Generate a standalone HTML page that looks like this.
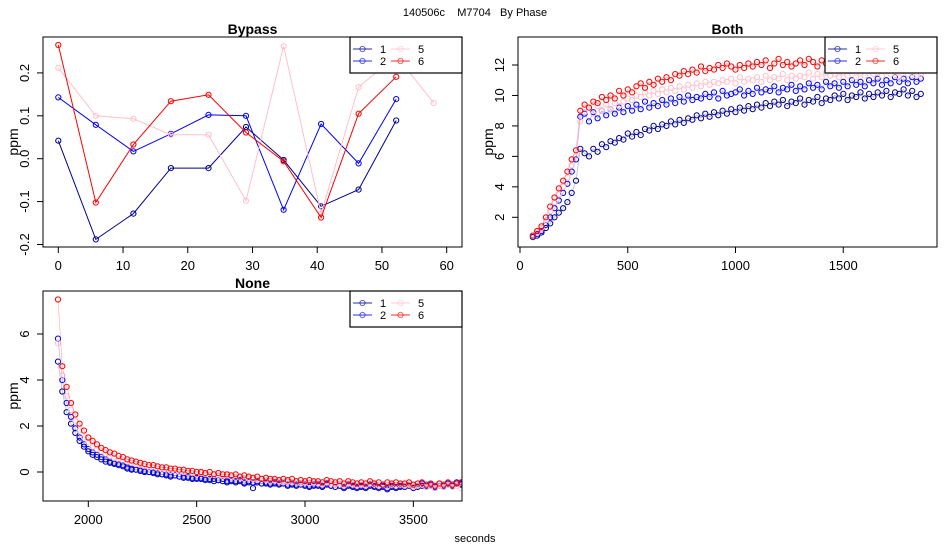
<!DOCTYPE html>
<html><head><meta charset="utf-8">
<style>
body{margin:0;background:#fff;}
svg{display:block;font-family:"Liberation Sans",sans-serif;}
</style></head>
<body>
<svg id="chart" width="950" height="550" viewBox="0 0 950 550">
<rect width="950" height="550" fill="#fff"/>
<text x="475" y="16" font-size="11" text-anchor="middle" xml:space="preserve">140506c    M7704   By Phase</text>
<text x="475" y="542" font-size="11" text-anchor="middle">seconds</text>
</svg>
<script>
const seriesNames = ["1","2","5","6"];
const seriesColors = ["#00008B","#0000FF","#FFC0CB","#FF0000"];

const bypassX = [0,5.8,11.6,17.4,23.2,29,34.8,40.6,46.4,52.2,58];
const bypass1 = [0.042,-0.188,-0.128,-0.022,-0.022,0.074,-0.003,-0.111,-0.072,0.089];
const bypass2 = [0.143,0.079,0.017,0.058,0.102,0.1,-0.119,0.081,-0.011,0.139];
const bypass5 = [0.212,0.1,0.093,0.056,0.056,-0.098,0.262,-0.128,0.167,0.24,0.13];
const bypass6 = [0.265,-0.102,0.033,0.134,0.149,0.061,-0.006,-0.137,0.105,0.191];

const bothStart = 60, bothStep = 20;
const both1 = [0.7,0.8,1.0,1.3,1.6,2.0,2.3,2.6,3.0,3.6,4.4,
6.5,6.2,6.0,6.5,6.3,6.8,6.6,7.0,6.9,7.2,
7.1,7.5,7.3,7.6,7.4,7.8,7.7,8.0,7.8,8.1,
8.0,8.3,8.1,8.4,8.2,8.5,8.4,8.7,8.5,8.8,
8.6,8.9,8.7,9.0,8.8,9.1,8.9,9.2,9.0,9.3,
9.1,9.4,9.2,9.5,9.3,9.6,9.4,9.7,9.3,9.6,
9.5,9.8,9.4,9.7,9.6,9.9,9.5,9.8,9.7,10.0,
9.8,10.1,9.7,10.0,9.9,10.2,9.8,10.1,9.9,10.2,
10.0,10.3,9.9,10.2,10.1,10.4,10.0,10.3,9.9,10.1];
const both2 = [0.8,0.9,1.1,1.5,2.0,2.6,3.1,3.6,4.2,5.0,5.8,
8.6,8.8,8.3,8.9,8.5,9.0,8.7,9.1,8.8,9.2,
8.9,9.3,9.0,9.4,9.1,9.6,9.2,9.5,9.3,9.7,
9.4,9.8,9.5,9.9,9.6,10.0,9.7,9.9,9.8,10.1,
9.9,10.2,9.8,10.3,10.0,10.1,10.2,10.4,10.0,10.3,
10.1,10.5,10.2,10.4,10.3,10.6,10.2,10.5,10.4,10.7,
10.3,10.6,10.4,10.8,10.5,10.7,10.4,10.9,10.6,10.8,
10.5,10.9,10.6,11.0,10.7,10.9,10.6,11.0,10.8,11.1,
10.7,11.0,10.8,11.2,10.9,11.1,10.8,11.2,10.9,11.1];
const both5 = [0.8,1.0,1.3,1.8,2.4,3.0,3.5,4.0,4.6,5.4,6.0,
8.3,8.9,9.2,8.8,9.3,9.0,9.4,9.1,9.5,9.3,
9.6,9.8,9.7,10.0,9.9,10.2,10.0,10.3,10.1,10.4,
10.2,10.5,10.3,10.6,10.4,10.7,10.5,10.8,10.6,10.9,
10.7,10.9,10.8,11.0,10.9,11.1,10.8,11.2,10.9,11.1,
11.0,11.2,10.9,11.3,11.0,11.2,11.1,11.4,11.0,11.3,
11.1,11.3,11.2,11.5,11.1,11.4,11.2,11.5,11.3,11.4,
11.2,11.5,11.3,11.6,11.2,11.5,11.3,11.6,11.4,11.5,
11.3,11.6,11.4,11.5,11.2,11.6,11.4,11.5,11.3,11.4];
const both6 = [0.8,1.1,1.4,2.0,2.7,3.3,3.9,4.4,5.0,5.8,6.4,
9.0,9.4,9.2,9.6,9.5,9.9,9.7,10.0,9.8,10.3,
10.0,10.4,10.2,10.6,10.8,10.5,10.9,10.7,11.1,10.9,
11.2,11.0,11.4,11.3,11.6,11.4,11.7,11.5,11.9,11.6,
11.8,11.7,12.0,11.8,12.1,11.9,11.7,12.0,11.8,12.1,
11.9,12.2,12.0,12.3,11.8,12.1,12.4,12.0,12.2,11.9,
12.1,12.3,12.0,12.4,12.2,11.9,12.3,12.1,12.4,12.2,
12.3,12.1,12.5,12.2,12.4,12.0,12.3,12.2,12.5,12.1,
12.3,12.2,12.4,12.0,12.3,12.1,12.4,12.2,12.3,12.1];

const noneStart = 1860, noneStep = 20;
const none1 = [4.8,3.5,2.6,2.1,1.7,1.35,1.1,0.9,0.75,0.65,
0.55,0.45,0.4,0.35,0.3,0.25,0.15,0.1,0.1,0.05,
0.0,0.0,-0.05,-0.1,-0.1,-0.15,-0.2,-0.15,-0.2,-0.25,
-0.25,-0.3,-0.25,-0.3,-0.35,-0.3,-0.4,-0.35,-0.4,-0.45,
-0.4,-0.45,-0.4,-0.5,-0.45,-0.7,-0.45,-0.5,-0.5,-0.55,
-0.5,-0.55,-0.5,-0.6,-0.55,-0.6,-0.55,-0.6,-0.65,-0.6,
-0.6,-0.65,-0.55,-0.6,-0.65,-0.6,-0.7,-0.6,-0.65,-0.7,
-0.65,-0.7,-0.6,-0.65,-0.7,-0.65,-0.75,-0.65,-0.7,-0.65,
-0.65,-0.6,-0.7,-0.65,-0.6,-0.65,-0.6,-0.7,-0.6,-0.65,
-0.55,-0.6,-0.5,-0.55,-0.5];
const none2 = [5.8,4.0,3.0,2.4,1.9,1.5,1.2,1.0,0.85,0.75,
0.65,0.55,0.45,0.4,0.35,0.3,0.2,0.15,0.1,0.1,
0.05,0.0,0.0,-0.05,-0.1,-0.1,-0.15,-0.15,-0.2,-0.2,
-0.2,-0.25,-0.3,-0.25,-0.3,-0.35,-0.3,-0.35,-0.3,-0.4,
-0.35,-0.4,-0.35,-0.45,-0.4,-0.45,-0.4,-0.5,-0.45,-0.5,
-0.45,-0.5,-0.45,-0.55,-0.5,-0.55,-0.5,-0.55,-0.6,-0.55,
-0.55,-0.6,-0.5,-0.6,-0.55,-0.6,-0.65,-0.55,-0.6,-0.65,
-0.6,-0.65,-0.55,-0.6,-0.65,-0.6,-0.7,-0.6,-0.65,-0.6,
-0.6,-0.55,-0.65,-0.6,-0.5,-0.6,-0.55,-0.65,-0.5,-0.6,
-0.5,-0.55,-0.45,-0.5,-0.45];
const none5 = [5.6,4.2,3.3,2.7,2.2,1.8,1.5,1.3,1.1,1.0,
0.9,0.8,0.7,0.6,0.55,0.5,0.45,0.4,0.35,0.3,
0.25,0.2,0.2,0.15,0.1,0.1,0.05,0.05,0.0,0.0,
-0.05,-0.05,-0.1,-0.05,-0.1,-0.15,-0.1,-0.15,-0.2,-0.15,
-0.2,-0.25,-0.2,-0.3,-0.25,-0.3,-0.35,-0.3,-0.35,-0.4,
-0.35,-0.4,-0.45,-0.4,-0.45,-0.4,-0.5,-0.45,-0.5,-0.45,
-0.5,-0.55,-0.45,-0.5,-0.55,-0.5,-0.6,-0.5,-0.55,-0.6,
-0.55,-0.6,-0.5,-0.55,-0.6,-0.55,-0.65,-0.55,-0.6,-0.55,
-0.6,-0.55,-0.65,-0.6,-0.55,-0.65,-0.6,-0.7,-0.6,-0.65,
-0.55,-0.65,-0.6,-0.7,-0.6];
const none6 = [7.5,4.6,3.7,3.0,2.5,2.1,1.8,1.5,1.35,1.2,
1.05,0.95,0.85,0.8,0.7,0.65,0.55,0.5,0.45,0.4,
0.35,0.3,0.3,0.25,0.2,0.2,0.15,0.15,0.1,0.1,
0.05,0.05,0.0,0.0,-0.05,0.0,-0.1,-0.05,-0.1,-0.1,
-0.15,-0.1,-0.2,-0.15,-0.2,-0.25,-0.2,-0.3,-0.25,-0.3,
-0.3,-0.35,-0.3,-0.35,-0.3,-0.4,-0.35,-0.4,-0.35,-0.4,
-0.4,-0.45,-0.35,-0.4,-0.45,-0.4,-0.5,-0.4,-0.45,-0.5,
-0.45,-0.5,-0.4,-0.5,-0.45,-0.55,-0.45,-0.5,-0.45,-0.5,
-0.5,-0.45,-0.55,-0.5,-0.45,-0.55,-0.5,-0.6,-0.5,-0.55,
-0.45,-0.55,-0.5,-0.45,-0.5];

const bypassXTicks = [0,10,20,30,40,50,60];
const bypassYTicks = [-0.2,-0.1,0.0,0.1,0.2];
const bypassYLabels = ["-0.2","-0.1","0.0","0.1","0.2"];
const bothXTicks = [0,500,1000,1500];
const bothYTicks = [2,4,6,8,10,12];
const noneXTicks = [2000,2500,3000,3500];
const noneYTicks = [0,2,4,6];

const NS = "http://www.w3.org/2000/svg";
const svg = document.getElementById("chart");
function mk(tag, attrs, parent){
  const e = document.createElementNS(NS, tag);
  for (const k in attrs) e.setAttribute(k, attrs[k]);
  (parent||svg).appendChild(e);
  return e;
}

function panel(cfg){
  const g = mk("g", {});
  
  
  const sx = v => cfg.x0px + (v - cfg.x0v) * cfg.kx;
  const sy = v => cfg.y0px - (v - cfg.y0v) * cfg.ky;
  const cid = "clip-" + cfg.name;
  const cp = mk("clipPath", {id: cid}, g);
  mk("rect", {x: cfg.L, y: cfg.T, width: cfg.R - cfg.L, height: cfg.B - cfg.T}, cp);
  const dg = mk("g", {"clip-path": "url(#" + cid + ")"}, g);
  cfg.series.forEach((s, i) => {
    const pts = s.y.map((v, j) => [sx(s.x(j)), sy(v)]);
    const line = mk("polyline", {points: pts.map(p => p[0].toFixed(1)+","+p[1].toFixed(1)).join(" "), fill: "none", stroke: seriesColors[i], "stroke-width": cfg.lw, "stroke-opacity": cfg.lop}, dg);
    
    
    pts.forEach(p => {
      const c = mk("circle", {cx: p[0].toFixed(1), cy: p[1].toFixed(1), r: 2.6, fill: "none", stroke: seriesColors[i], "stroke-width": 1}, dg);
      
      
    });
  });
  const box = mk("rect", {x: cfg.L, y: cfg.T, width: cfg.R - cfg.L, height: cfg.B - cfg.T, fill: "none", stroke: "#000", "stroke-width": 1}, g);
  
  
  const xa = mk("g", {}, g);
  
  
  const xt = cfg.xTicks;
  mk("line", {x1: sx(xt[0]), x2: sx(xt[xt.length-1]), y1: cfg.B, y2: cfg.B, stroke: "#000"}, xa);
  xt.forEach(v => {
    mk("line", {x1: sx(v), x2: sx(v), y1: cfg.B, y2: cfg.B + 6, stroke: "#000"}, xa);
    const t = mk("text", {x: sx(v), y: cfg.B + 23, "font-size": 13, "text-anchor": "middle"}, xa);
    t.textContent = String(v);
  });
  const ya = mk("g", {}, g);
  
  
  const yt = cfg.yTicks;
  mk("line", {x1: cfg.L, x2: cfg.L, y1: sy(yt[0]), y2: sy(yt[yt.length-1]), stroke: "#000"}, ya);
  yt.forEach((v, i) => {
    mk("line", {x1: cfg.L - 6, x2: cfg.L, y1: sy(v), y2: sy(v), stroke: "#000"}, ya);
    const lx = cfg.L - 14;
    const t = mk("text", {x: lx, y: sy(v), "font-size": 13, "text-anchor": "middle", transform: "rotate(-90 " + lx + " " + sy(v) + ")"}, ya);
    t.textContent = cfg.yLabels ? cfg.yLabels[i] : String(v);
  });
  const yl = mk("text", {x: cfg.L - 25, y: (cfg.T + cfg.B)/2, "font-size": 14, "text-anchor": "middle", transform: "rotate(-90 " + (cfg.L - 25) + " " + ((cfg.T + cfg.B)/2) + ")"}, g);
  yl.textContent = "ppm";
  
  
  const ti = mk("text", {x: (cfg.L + cfg.R)/2, y: cfg.T - 3, "font-size": 14, "font-weight": "bold", "text-anchor": "middle"}, g);
  ti.textContent = cfg.title;
  
  
  const lg = mk("g", {}, g);
  
  
  const lx0 = cfg.R - 112, ly0 = cfg.T;
  mk("rect", {x: lx0, y: ly0, width: 112, height: 36, fill: "#fff", stroke: "#000", "stroke-width": 1.2}, lg);
  seriesNames.forEach((nm, i) => {
    const col = Math.floor(i / 2), row = i % 2;
    const x = lx0 + 3 + col * 38, y = ly0 + 12 + row * 12;
    const e = mk("g", {}, lg);
    
    
    mk("line", {x1: x, x2: x + 19, y1: y, y2: y, stroke: seriesColors[i], "stroke-opacity": 0.55, "stroke-width": 1.5}, e);
    mk("circle", {cx: x + 9.5, cy: y, r: 2.6, fill: "none", stroke: seriesColors[i], "stroke-opacity": 0.6}, e);
    const t = mk("text", {x: x + 27, y: y + 4, "font-size": 11}, e);
    t.textContent = nm;
  });
}

panel({name: "bypass", title: "Bypass", L: 43, R: 462, T: 37, B: 247,
  x0v: 0, x0px: 58.3, kx: 6.473, y0v: 0, y0px: 158.7, ky: 429,
  xTicks: bypassXTicks, yTicks: bypassYTicks, yLabels: bypassYLabels, lw: 1, lop: 1,
  series: [
    {x: j => bypassX[j], y: bypass1},
    {x: j => bypassX[j], y: bypass2},
    {x: j => bypassX[j], y: bypass5},
    {x: j => bypassX[j], y: bypass6}]});

const bt = j => bothStart + j * bothStep;
panel({name: "both", title: "Both", L: 518, R: 937, T: 37, B: 247,
  x0v: 0, x0px: 520, kx: 0.2155, y0v: 2, y0px: 217.3, ky: 15.23,
  xTicks: bothXTicks, yTicks: bothYTicks, lw: 0.7, lop: 0.3,
  series: [{x: bt, y: both1},{x: bt, y: both2},{x: bt, y: both5},{x: bt, y: both6}]});

const nt = j => noneStart + j * noneStep;
panel({name: "none", title: "None", L: 43, R: 462, T: 291, B: 501,
  x0v: 2000, x0px: 88.3, kx: 0.2167, y0v: 0, y0px: 472, ky: 23,
  xTicks: noneXTicks, yTicks: noneYTicks, lw: 0.7, lop: 0.3,
  series: [{x: nt, y: none1},{x: nt, y: none2},{x: nt, y: none5},{x: nt, y: none6}]});
</script>
</body></html>
